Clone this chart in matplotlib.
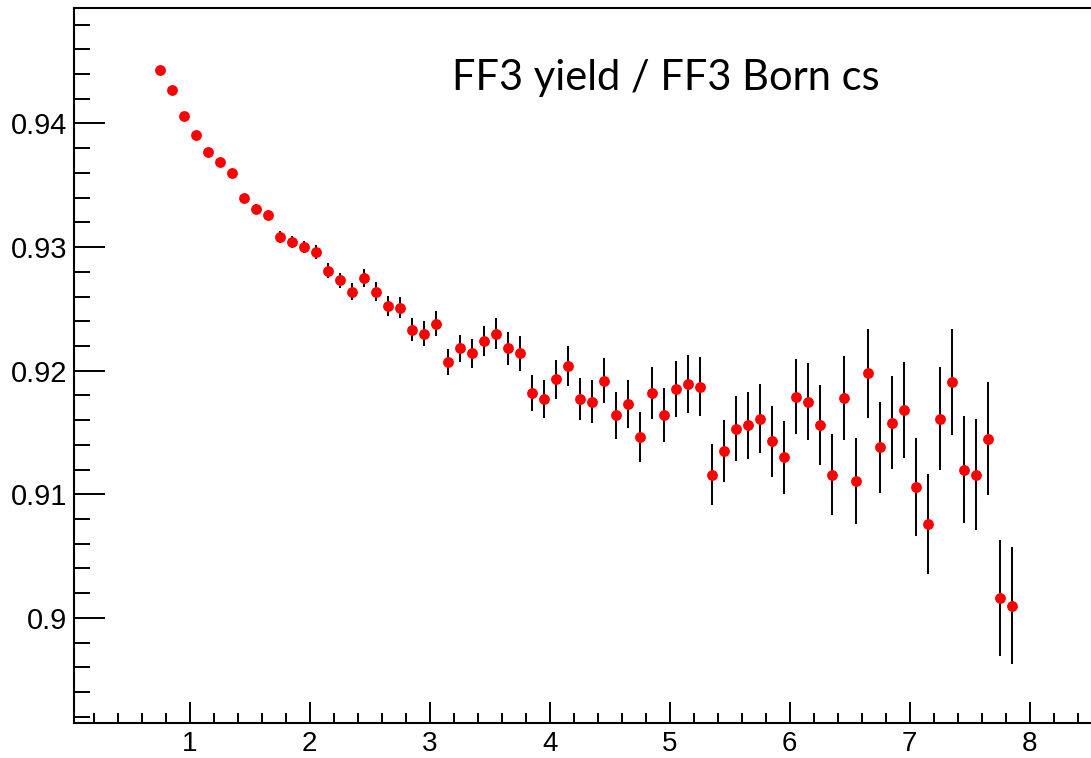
import numpy as np
import matplotlib
matplotlib.use("Agg")
import matplotlib.pyplot as plt
from matplotlib.ticker import MultipleLocator, FormatStrFormatter

# bin centres (0.1 wide bins)
x = [0.75, 0.85, 0.95, 1.05, 1.15, 1.25, 1.35, 1.45, 1.55, 1.65,
     1.75, 1.85, 1.95, 2.05, 2.15, 2.25, 2.35, 2.45, 2.55, 2.65,
     2.75, 2.85, 2.95, 3.05, 3.15, 3.25, 3.35, 3.45, 3.55, 3.65,
     3.75, 3.85, 3.95, 4.05, 4.15, 4.25, 4.35, 4.45, 4.55, 4.65,
     4.75, 4.85, 4.95, 5.05, 5.15, 5.25, 5.35, 5.45, 5.55, 5.65,
     5.75, 5.85, 5.95, 6.05, 6.15, 6.25, 6.35, 6.45, 6.55, 6.65,
     6.75, 6.85, 6.95, 7.05, 7.15, 7.25, 7.35, 7.45, 7.55, 7.65,
     7.75, 7.85]

# ratio yield / Born cross section
ratio = [0.9443, 0.9427, 0.9406, 0.9391, 0.9377, 0.9369, 0.9360, 0.9340, 0.9331, 0.9326,
         0.9308, 0.9304, 0.9300, 0.9296, 0.9281, 0.9273, 0.9264, 0.9275, 0.9264, 0.9252,
         0.9251, 0.9233, 0.9230, 0.9238, 0.9207, 0.9218, 0.9214, 0.9224, 0.9230, 0.9218,
         0.9214, 0.9182, 0.9177, 0.9193, 0.9204, 0.9177, 0.9175, 0.9192, 0.9164, 0.9173,
         0.9146, 0.9182, 0.9164, 0.9185, 0.9189, 0.9187, 0.9116, 0.9135, 0.9153, 0.9156,
         0.9161, 0.9143, 0.9130, 0.9179, 0.9175, 0.9156, 0.9116, 0.9178, 0.9111, 0.9198,
         0.9138, 0.9158, 0.9168, 0.9106, 0.9076, 0.9161, 0.9191, 0.9120, 0.9116, 0.9145,
         0.9016, 0.9010]

err = [0.00020, 0.00021, 0.00023, 0.00025, 0.00027, 0.00029, 0.00031, 0.00033, 0.00036, 0.00040,
       0.00047, 0.00048, 0.00051, 0.00057, 0.00059, 0.00062, 0.00069, 0.00071, 0.00076, 0.00081,
       0.00086, 0.00093, 0.00098, 0.00102, 0.00107, 0.00110, 0.00117, 0.00123, 0.00127, 0.00135,
       0.00139, 0.00146, 0.00151, 0.00159, 0.00163, 0.00171, 0.00177, 0.00185, 0.00189, 0.00196,
       0.00202, 0.00212, 0.00218, 0.00225, 0.00233, 0.00239, 0.00247, 0.00253, 0.00262, 0.00271,
       0.00279, 0.00287, 0.00294, 0.00305, 0.00313, 0.00321, 0.00330, 0.00340, 0.00349, 0.00359,
       0.00367, 0.00378, 0.00387, 0.00395, 0.00406, 0.00417, 0.00427, 0.00434, 0.00448, 0.00459,
       0.00467, 0.00475]

plt.rcParams['font.family'] = ['Liberation Sans', 'DejaVu Sans']

fig = plt.figure(figsize=(10.91, 7.58), dpi=100)
# frame runs slightly past the right edge of the canvas
ax = fig.add_axes([0.0678, 0.0462, 0.9404, 0.9426])

ax.errorbar(x, ratio, yerr=err, fmt='o', color='red', markersize=7.8,
            markeredgewidth=0, ecolor='black', elinewidth=1.4, capsize=2.2,
            capthick=1.6, zorder=3)

ax.set_xlim(0.035, 8.585)
ax.set_ylim(0.8915, 0.9493)

ax.xaxis.set_major_locator(MultipleLocator(1))
ax.xaxis.set_minor_locator(MultipleLocator(0.2))
ax.yaxis.set_major_locator(MultipleLocator(0.01))
ax.yaxis.set_minor_locator(MultipleLocator(0.002))
ax.xaxis.set_major_formatter(FormatStrFormatter('%g'))
ax.yaxis.set_major_formatter(FormatStrFormatter('%g'))

ax.tick_params(axis='both', which='both', direction='in', width=1.4,
               top=False, right=False, labelsize=21, colors='black')
ax.tick_params(axis='y', which='major', length=22, pad=5)
ax.tick_params(axis='y', which='minor', length=11.5)
ax.tick_params(axis='x', which='major', length=15, pad=6, labelsize=20)
ax.tick_params(axis='x', which='minor', length=7.5)

for side in ['left', 'bottom', 'top', 'right']:
    ax.spines[side].set_linewidth(1.5)

fig.text(452 / 1091, 1 - 90 / 758, 'FF3 yield / FF3 Born cs', fontsize=30,
         family=['Lato', 'DejaVu Sans'], ha='left', va='baseline')

fig.savefig('out.png', dpi=100)
